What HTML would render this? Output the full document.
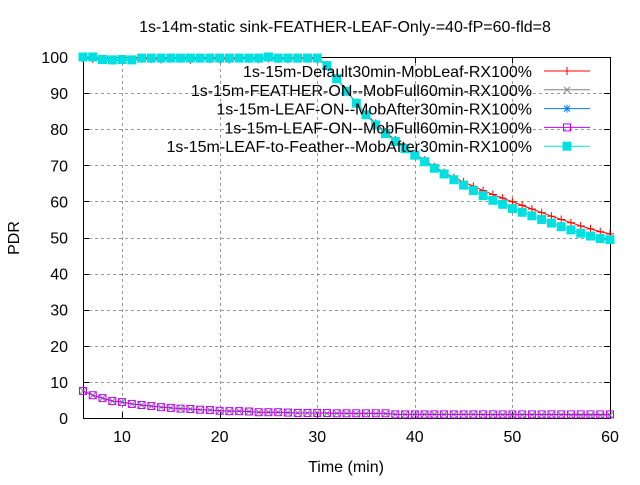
<!DOCTYPE html>
<html><head><meta charset="utf-8"><style>
html,body{margin:0;padding:0;background:#fff}
svg text{font-family:"Liberation Sans",sans-serif;font-size:16px;fill:#000}
</style></head><body>
<svg id="chart" width="640" height="480" xmlns="http://www.w3.org/2000/svg">
<rect width="640" height="480" fill="#fff"/>
<text x="345" y="32" text-anchor="middle">1s-14m-static sink-FEATHER-LEAF-Only-=40-fP=60-fld=8</text>
<text x="19" y="238" text-anchor="middle" transform="rotate(-90 19 238)">PDR</text>
<text x="346" y="472" text-anchor="middle">Time (min)</text>
<g id="grid"></g><g id="axes"></g><g id="series"></g><g id="legend"></g>
</svg>
<script>
const xs = [];
for (let i = 6; i <= 60; i++) xs.push(i);
const xTicks = [10,20,30,40,50,60];
const yTicks = [0,10,20,30,40,50,60,70,80,90,100];
const seriesNames = ["1s-15m-Default30min-MobLeaf-RX100%","1s-15m-FEATHER-ON--MobFull60min-RX100%","1s-15m-LEAF-ON--MobAfter30min-RX100%","1s-15m-LEAF-ON--MobFull60min-RX100%","1s-15m-LEAF-to-Feather--MobAfter30min-RX100%"];
const redVals = [99.6,99.4,99.2,99.0,99.3,99.1,99.5,99.4,99.3,99.6,99.5,99.2,99.6,99.4,99.5,99.3,99.6,99.5,99.4,99.6,99.5,99.4,99.6,99.5,99.4,97.8,94.2,90.6,87.3,84.2,81.6,79.2,77.0,75.0,73.2,71.4,69.6,68.0,66.6,65.4,64.2,63.0,61.9,60.9,59.9,58.9,57.9,56.9,55.9,55.0,54.1,53.2,52.4,51.6,51.0];
const cyanVals = [100,100,99.3,99.2,99.3,99.2,99.7,99.7,99.7,99.7,99.7,99.7,99.7,99.7,99.7,99.7,99.7,99.7,99.7,100,99.7,99.7,99.7,99.7,99.7,97.6,94.0,90.5,87.2,84.0,81.2,78.8,76.6,74.6,72.8,71.0,69.2,67.6,66.0,64.5,63.0,61.6,60.3,59.2,58.0,57.0,56.0,55.0,54.0,53.0,52.1,51.2,50.4,49.7,49.4];
const blueVals = [100,100,99.3,99.2,99.3,99.2,99.7,99.7,99.7,99.7,99.7,99.7,99.7,99.7,99.7,99.7,99.7,99.7,99.7,100,99.7,99.7,99.7,99.7,99.7,97.6,94.0,90.5,87.2,84.0,81.2,78.8,76.6,74.6,72.8,71.0,69.2,67.6,66.0,64.5,63.0,61.6,60.3,59.2,58.0,57.0,56.0,55.0,54.0,53.0,52.1,51.2,50.4,49.7,49.4];
const grayVals = [7.5,6.3,5.5,4.7,4.4,3.9,3.6,3.3,3.0,2.8,2.6,2.5,2.3,2.2,2.0,1.9,1.9,1.8,1.6,1.6,1.6,1.5,1.4,1.4,1.4,1.3,1.3,1.3,1.2,1.2,1.2,1.2,1.0,1.0,1.0,1.0,1.0,1.0,1.0,1.0,1.0,0.9,0.9,0.9,0.9,0.9,0.9,0.9,0.9,0.9,0.8,0.8,0.8,0.8,0.8];
const purpleVals = [7.5,6.3,5.5,4.7,4.4,3.9,3.6,3.3,3.0,2.8,2.6,2.5,2.3,2.2,2.0,1.9,1.9,1.8,1.6,1.6,1.6,1.5,1.4,1.4,1.4,1.4,1.3,1.3,1.3,1.3,1.3,1.3,1.0,1.0,1.0,1.0,1.0,1.0,1.0,1.0,1.0,1.0,1.0,1.0,1.0,1.0,1.0,1.0,1.0,1.0,1.0,1.0,1.0,1.0,1.0];

const L=83,R=610,T=57,B=418;
const sx=v=>L+(v-6)*(R-L)/54;
const sy=v=>B-v*(B-T)/100;
const px=v=>Math.round(v)+0.5;
const NS="http://www.w3.org/2000/svg";
function mk(tag,attrs,parent){const e=document.createElementNS(NS,tag);for(const k in attrs)e.setAttribute(k,attrs[k]);parent.appendChild(e);return e;}
const grid=document.getElementById('grid'),axes=document.getElementById('axes'),ser=document.getElementById('series'),leg=document.getElementById('legend');
xTicks.forEach(t=>{
  const g=mk('line',{x1:px(sx(t)),x2:px(sx(t)),y1:T,y2:B,stroke:'#999','stroke-dasharray':'3,3','shape-rendering':'crispEdges'},grid);
  
  
  mk('line',{x1:px(sx(t)),x2:px(sx(t)),y1:B,y2:B-6,stroke:'#000','shape-rendering':'crispEdges'},axes);
  mk('line',{x1:px(sx(t)),x2:px(sx(t)),y1:T,y2:T+6,stroke:'#000','shape-rendering':'crispEdges'},axes);
  const tx=mk('text',{x:sx(t),y:B+24,'text-anchor':'middle'},axes);tx.textContent=t;
  
  
});
yTicks.forEach(t=>{
  if(t>0&&t<100){const g=mk('line',{x1:L,x2:R,y1:px(sy(t)),y2:px(sy(t)),stroke:'#999','stroke-dasharray':'3,3','shape-rendering':'crispEdges'},grid);
  
  }
  mk('line',{x1:L,x2:L+6,y1:px(sy(t)),y2:px(sy(t)),stroke:'#000','shape-rendering':'crispEdges'},axes);
  mk('line',{x1:R,x2:R-6,y1:px(sy(t)),y2:px(sy(t)),stroke:'#000','shape-rendering':'crispEdges'},axes);
  const tx=mk('text',{x:L-15,y:sy(t)+6,'text-anchor':'end'},axes);tx.textContent=t;
  
  
});
const frame=mk('rect',{x:L+0.5,y:T+0.5,width:R-L,height:B-T,fill:'none',stroke:'#000','shape-rendering':'crispEdges'},axes);



function marker(type,x,y,c,p){
  if(type==='plus'){mk('path',{d:`M${x-4},${y}h8M${x},${y-4}v8`,stroke:c,fill:'none'},p);}
  else if(type==='x'){mk('path',{d:`M${x-3},${y-3}l6,6M${x-3},${y+3}l6,-6`,stroke:c,fill:'none'},p);}
  else if(type==='star'){mk('path',{d:`M${x-4},${y}h8M${x},${y-4}v8M${x-3},${y-3}l6,6M${x-3},${y+3}l6,-6`,stroke:c,fill:'none'},p);}
  else if(type==='box'){mk('rect',{x:x-3.5,y:y-3.5,width:7,height:7,stroke:c,fill:'none'},p);}
  else if(type==='fbox'){mk('rect',{x:x-4.5,y:y-4.5,width:9,height:9,fill:c},p);}
}
const defs=[
 {vals:redVals,c:'#ff0000',m:'plus',n:'series-default30min'},
 {vals:grayVals,c:'#808080',m:'x',n:'series-feather-full60'},
 {vals:blueVals,c:'#0080ff',m:'star',n:'series-leaf-after30'},
 {vals:purpleVals,c:'#c000ff',m:'box',n:'series-leaf-full60'},
 {vals:cyanVals,c:'#00e0e0',m:'fbox',n:'series-leaf-to-feather'}
];
const order=[0,1,3,2,4];
order.forEach(i=>{const d=defs[i];
  const g=mk('g',{},ser);
  
  
  mk('polyline',{points:xs.map((x,j)=>sx(x)+','+sy(d.vals[j])).join(' '),fill:'none',stroke:d.c,'stroke-width':1},g);
  xs.forEach((x,j)=>marker(d.m,sx(x),sy(d.vals[j]),d.c,g));
});
defs.forEach((d,i)=>{
  const y=71+i*18.8;
  const g=mk('g',{},leg);
  
  
  const t=mk('text',{x:532,y:y+6,'text-anchor':'end'},g);t.textContent=seriesNames[i];
  mk('line',{x1:544,x2:590,y1:y,y2:y,stroke:d.c},g);
  marker(d.m,567,y,d.c,g);
});
</script>
</body></html>
